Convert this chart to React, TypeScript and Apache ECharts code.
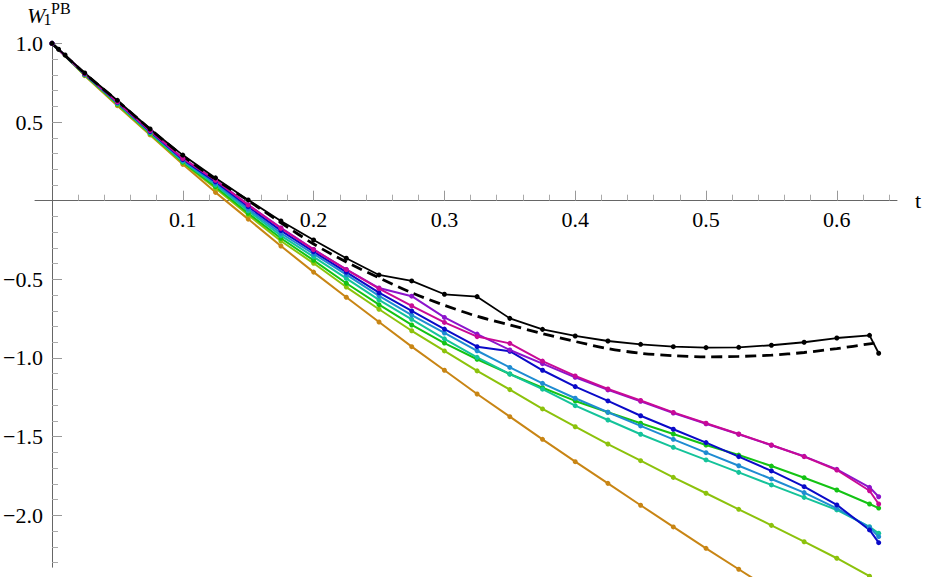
import React, { useEffect, useRef } from "react";
import * as echarts from "echarts";

// sample times (t) shared by the coloured series and the dashed reference curve
const tGrid = [0, 0.025, 0.05, 0.075, 0.1, 0.125, 0.15, 0.175, 0.2, 0.225, 0.25, 0.275, 0.3, 0.325, 0.35, 0.375, 0.4, 0.425, 0.45, 0.475, 0.5, 0.525, 0.55, 0.575, 0.6, 0.625, 0.632];
// sample times of the black solid series
const tBlack = [0, 0.005, 0.01, 0.025, 0.05, 0.075, 0.1, 0.125, 0.15, 0.175, 0.2, 0.225, 0.25, 0.275, 0.3, 0.325, 0.35, 0.375, 0.4, 0.425, 0.45, 0.475, 0.5, 0.525, 0.55, 0.575, 0.6, 0.625, 0.632];

const orangeVals = [1.0, 0.795, 0.604, 0.418, 0.231, 0.053, -0.117, -0.288, -0.454, -0.614, -0.771, -0.928, -1.078, -1.229, -1.373, -1.517, -1.659, -1.797, -1.936, -2.074, -2.21, -2.343, -2.475];
const yellowGreenVals = [1.0, 0.798, 0.61, 0.423, 0.24, 0.079, -0.091, -0.256, -0.398, -0.549, -0.69, -0.827, -0.955, -1.082, -1.201, -1.324, -1.437, -1.547, -1.653, -1.759, -1.86, -1.962, -2.064, -2.168, -2.273, -2.387, -2.43];
const greenVals = [1.0, 0.8, 0.614, 0.428, 0.245, 0.089, -0.08, -0.239, -0.379, -0.525, -0.661, -0.79, -0.905, -1.008, -1.102, -1.189, -1.273, -1.345, -1.415, -1.483, -1.553, -1.617, -1.687, -1.761, -1.839, -1.928, -1.954];
const tealVals = [1.0, 0.802, 0.618, 0.432, 0.25, 0.1, -0.065, -0.222, -0.357, -0.494, -0.631, -0.754, -0.878, -0.996, -1.102, -1.198, -1.303, -1.394, -1.485, -1.568, -1.648, -1.727, -1.807, -1.886, -1.966, -2.073, -2.114];
const steelBlueVals = [1.0, 0.804, 0.622, 0.436, 0.256, 0.11, -0.053, -0.207, -0.339, -0.47, -0.605, -0.727, -0.841, -0.954, -1.06, -1.161, -1.256, -1.345, -1.432, -1.517, -1.602, -1.685, -1.769, -1.856, -1.956, -2.077, -2.136];
const blueVals = [1.0, 0.806, 0.625, 0.44, 0.262, 0.12, -0.038, -0.19, -0.324, -0.454, -0.585, -0.701, -0.816, -0.928, -0.957, -1.078, -1.182, -1.273, -1.367, -1.453, -1.538, -1.627, -1.718, -1.818, -1.934, -2.093, -2.174];
const purpleVals = [1.0, 0.808, 0.628, 0.446, 0.27, 0.131, -0.026, -0.173, -0.31, -0.437, -0.555, -0.607, -0.742, -0.848, -0.949, -1.036, -1.123, -1.203, -1.275, -1.35, -1.418, -1.485, -1.555, -1.625, -1.708, -1.822, -1.882];
const magentaVals = [1.0, 0.808, 0.628, 0.445, 0.268, 0.13, -0.027, -0.175, -0.311, -0.438, -0.559, -0.668, -0.774, -0.864, -0.907, -1.02, -1.114, -1.197, -1.27, -1.346, -1.415, -1.483, -1.553, -1.627, -1.712, -1.844, -1.928];
const blackVals = [1.0, 0.963, 0.926, 0.812, 0.638, 0.456, 0.29, 0.145, 0.005, -0.129, -0.25, -0.366, -0.472, -0.51, -0.595, -0.61, -0.748, -0.818, -0.86, -0.892, -0.913, -0.928, -0.934, -0.932, -0.919, -0.9, -0.873, -0.856, -0.97];
const dashedVals = [1.0, 0.81, 0.635, 0.455, 0.285, 0.135, 0.0, -0.14, -0.275, -0.39, -0.49, -0.585, -0.665, -0.735, -0.79, -0.845, -0.895, -0.94, -0.97, -0.985, -0.993, -0.99, -0.982, -0.965, -0.94, -0.91, -0.9];

const xTickValues = [0.1, 0.2, 0.3, 0.4, 0.5, 0.6];
const yTickValues = [-2.0, -1.5, -1.0, -0.5, 0.5, 1.0];

const colouredSeries = [
  { name: "orange", vals: orangeVals, color: "#c88514" },
  { name: "yellowgreen", vals: yellowGreenVals, color: "#8cc20c" },
  { name: "green", vals: greenVals, color: "#14c314" },
  { name: "teal", vals: tealVals, color: "#14c39a" },
  { name: "steelblue", vals: steelBlueVals, color: "#1e8cd2" },
  { name: "blue", vals: blueVals, color: "#0a0ac8" },
  { name: "purple", vals: purpleVals, color: "#8c14cc" },
  { name: "magenta", vals: magentaVals, color: "#c80a96" },
];

const FONT = "Liberation Serif";
const X_MIN = -0.013;
const X_MAX = 0.646;
const Y_MIN = -2.33;
const Y_MAX = 1.0;
const W = 926;
const H = 577;
const GRID = { left: 35, right: 29, top: 43.4, bottom: 9.8 };

const zip = (ts: number[], vs: number[]) => vs.map((v, i) => [ts[i], v]);
const fmt = (v: number) => (v < 0 ? "\u2212" : "") + Math.abs(v).toFixed(1);

export default function App() {
  const ref = useRef<HTMLDivElement>(null);
  useEffect(() => {
    if (!ref.current) return;
    const chart = echarts.init(ref.current, undefined, { renderer: "svg" });
    const gridW = W - GRID.left - GRID.right;
    const gridH = H - GRID.top - GRID.bottom;
    // move the axes from the grid edges onto the zero lines (Mathematica-style crossing axes)
    const xAxisOffset = -gridH * (0 - Y_MIN) / (Y_MAX - Y_MIN);
    const yAxisOffset = -gridW * (0 - X_MIN) / (X_MAX - X_MIN);

    const series: any[] = colouredSeries.map((s) => ({
      name: s.name,
      type: "line",
      data: zip(tGrid, s.vals),
      symbol: "circle",
      symbolSize: 5,
      showSymbol: true,
      clip: false,
      lineStyle: { color: s.color, width: 2 },
      itemStyle: { color: s.color },
    }));
    series.push({
      name: "dashed",
      type: "line",
      data: zip(tGrid, dashedVals),
      showSymbol: false,
      symbol: "none",
      smooth: 0.3,
      clip: false,
      lineStyle: { color: "#000", width: 2.8, type: [11, 6] },
    });
    series.push({
      name: "black",
      type: "line",
      data: zip(tBlack, blackVals),
      symbol: "circle",
      symbolSize: 5,
      showSymbol: true,
      clip: false,
      lineStyle: { color: "#000", width: 1.8 },
      itemStyle: { color: "#000" },
    });
    chart.setOption({
      animation: false,
      backgroundColor: "#fff",
      grid: { ...GRID, outerBoundsMode: "none", containLabel: false },
      xAxis: {
        type: "value",
        min: X_MIN,
        max: X_MAX,
        splitNumber: 5,
        offset: xAxisOffset,
        axisLine: { onZero: false, lineStyle: { color: "#666", width: 1 } },
        axisTick: { inside: true, length: 10, customValues: xTickValues, lineStyle: { color: "#999" } },
        minorTick: { show: true, splitNumber: 5, length: 6, lineStyle: { color: "#aaa" } },
        axisLabel: { customValues: xTickValues, formatter: (v: number) => fmt(v), fontFamily: FONT, fontSize: 22, color: "#000", margin: 8, hideOverlap: false },
        splitLine: { show: false },
        minorSplitLine: { show: false },
        name: "t",
        nameLocation: "end",
        nameGap: 18,
        nameTextStyle: { fontFamily: FONT, fontSize: 22, color: "#000" },
      },
      yAxis: {
        type: "value",
        min: Y_MIN,
        max: Y_MAX,
        splitNumber: 5,
        offset: yAxisOffset,
        axisLine: { onZero: false, lineStyle: { color: "#666", width: 1 } },
        axisTick: { inside: true, length: 10, customValues: yTickValues, lineStyle: { color: "#999" } },
        minorTick: { show: true, splitNumber: 5, length: 6, lineStyle: { color: "#aaa" } },
        axisLabel: { customValues: yTickValues, formatter: (v: number) => fmt(v), fontFamily: FONT, fontSize: 22, color: "#000", margin: 9, hideOverlap: false },
        splitLine: { show: false },
        minorSplitLine: { show: false },
      },
      graphic: [
        { type: "text", x: 27, y: 15.5, style: { text: "W", font: "italic 22px " + FONT, fill: "#000", textAlign: "left", textVerticalAlign: "middle" } },
        { type: "text", x: 43.5, y: 19.8, style: { text: "1", font: "16px " + FONT, fill: "#000", textAlign: "left", textVerticalAlign: "middle" } },
        { type: "text", x: 51, y: 8, style: { text: "PB", font: "16px " + FONT, fill: "#000", textAlign: "left", textVerticalAlign: "middle" } },
      ],
      series,
    });
    return () => chart.dispose();
  }, []);
  return <div ref={ref} style={{ position: "absolute", left: 0, top: 0, width: W, height: H }} />;
}
